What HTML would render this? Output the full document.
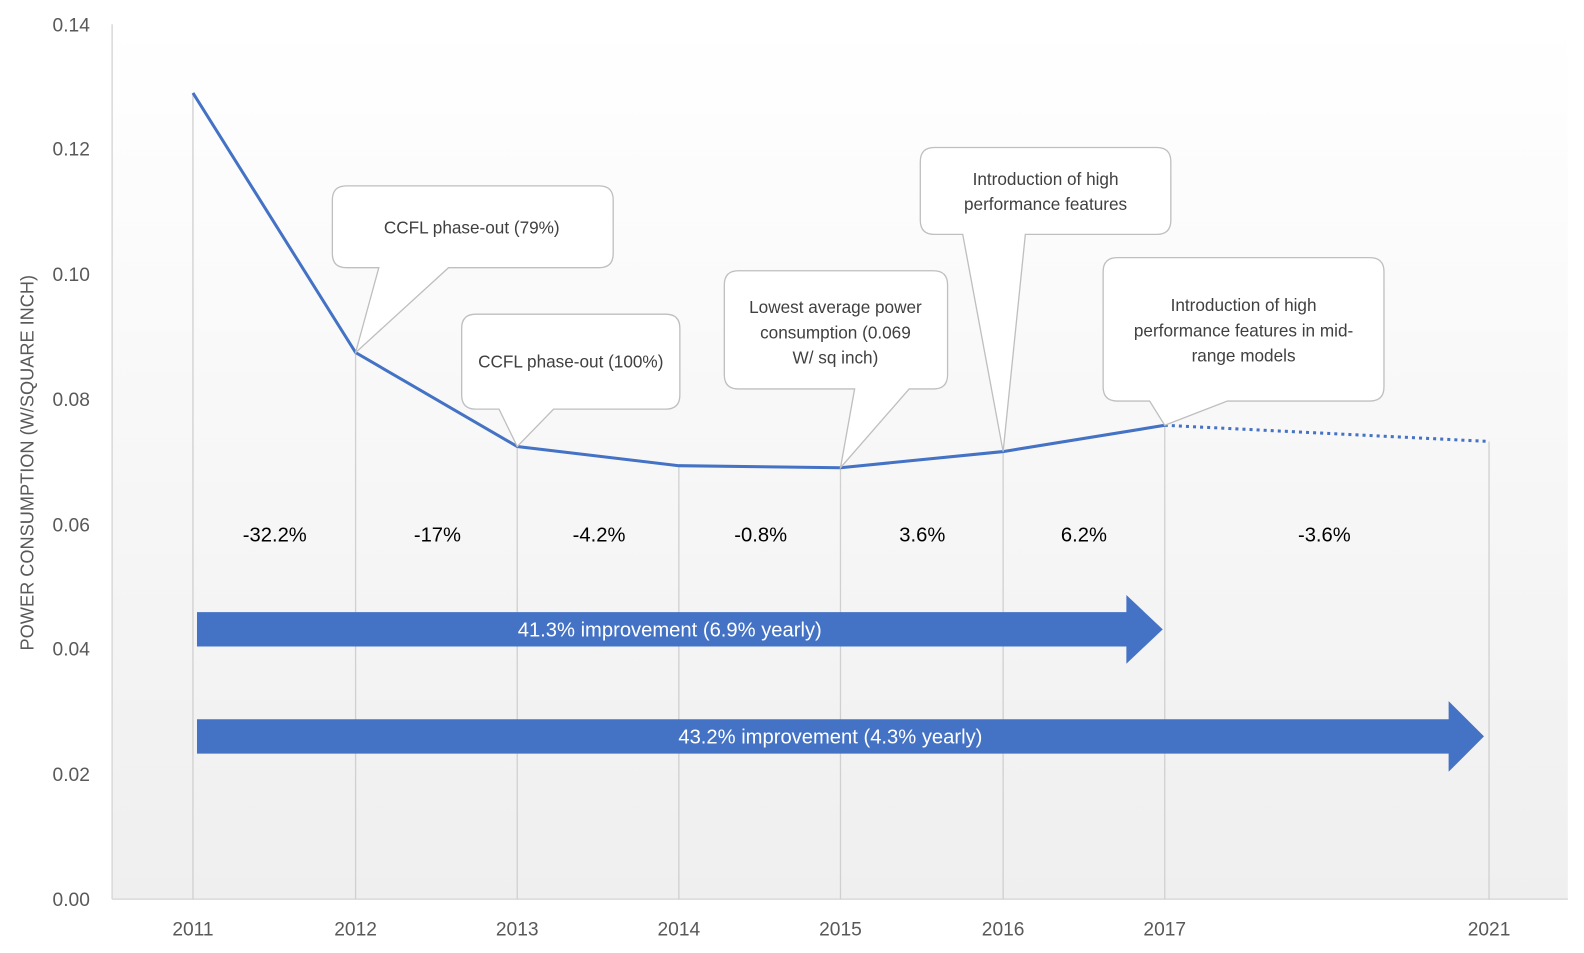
<!DOCTYPE html>
<html><head><meta charset="utf-8"><style>
html,body{margin:0;padding:0;background:#fff}
svg{display:block;font-family:"Liberation Sans",sans-serif}
</style></head><body>
<svg width="1584" height="953" viewBox="0 0 1584 953" xmlns="http://www.w3.org/2000/svg">
<defs>
<linearGradient id="bg" x1="0" y1="0" x2="0" y2="1">
<stop offset="0" stop-color="#ffffff"/><stop offset="1" stop-color="#efefef"/>
</linearGradient>
</defs>
<g transform="scale(1.0102)">
<rect x="111" y="24" width="1441" height="866" fill="url(#bg)"/>
<line x1="111" y1="24" x2="111" y2="890" stroke="#d9d9d9" stroke-width="1.5"/>
<line x1="111" y1="890" x2="1552" y2="890" stroke="#d9d9d9" stroke-width="1.5"/>
<g stroke="#d0d0d0" stroke-width="1.3">
<line x1="191" y1="92" x2="191" y2="890"/>
<line x1="352" y1="349" x2="352" y2="890"/>
<line x1="512" y1="442" x2="512" y2="890"/>
<line x1="672" y1="461" x2="672" y2="890"/>
<line x1="832" y1="463" x2="832" y2="890"/>
<line x1="993" y1="447" x2="993" y2="890"/>
<line x1="1153" y1="421" x2="1153" y2="890"/>
<line x1="1474" y1="437" x2="1474" y2="890"/>
</g>
<g font-size="19" fill="#595959" text-anchor="end">
<text x="89" y="31">0.14</text><text x="89" y="154">0.12</text><text x="89" y="278">0.10</text>
<text x="89" y="402">0.08</text><text x="89" y="526">0.06</text><text x="89" y="649">0.04</text>
<text x="89" y="773">0.02</text><text x="89" y="897">0.00</text>
</g>
<g font-size="19" fill="#595959" text-anchor="middle">
<text x="191" y="926">2011</text><text x="352" y="926">2012</text><text x="512" y="926">2013</text>
<text x="672" y="926">2014</text><text x="832" y="926">2015</text><text x="993" y="926">2016</text>
<text x="1153" y="926">2017</text><text x="1474" y="926">2021</text>
</g>
<text transform="translate(33,458) rotate(-90)" font-size="18" fill="#595959" text-anchor="middle">POWER CONSUMPTION (W/SQUARE INCH)</text>
<polyline points="191,92 352,349 512,442 672,461 832,463 993,447 1153,421" fill="none" stroke="#4472c4" stroke-width="3"/>
<line x1="1153" y1="421" x2="1474" y2="437" stroke="#4472c4" stroke-width="3" stroke-dasharray="3,4"/>
<g fill="#fff" stroke="#bfbfbf" stroke-width="1.3">
<path d="M343,184 H593 Q607,184 607,198 V251 Q607,265 593,265 H444 L352,349 L375,265 H343 Q329,265 329,251 V198 Q329,184 343,184 Z"/>
<path d="M471,311 H659 Q673,311 673,325 V391 Q673,405 659,405 H548 L512,442 L494,405 H471 Q457,405 457,391 V325 Q457,311 471,311 Z"/>
<path d="M731,268 H924 Q938,268 938,282 V371 Q938,385 924,385 H900 L832,463 L846,385 H731 Q717,385 717,371 V282 Q717,268 731,268 Z"/>
<path d="M925,146 H1145 Q1159,146 1159,160 V218 Q1159,232 1145,232 H1015 L993,447 L953,232 H925 Q911,232 911,218 V160 Q911,146 925,146 Z"/>
<path d="M1106,255 H1356 Q1370,255 1370,269 V383 Q1370,397 1356,397 H1215 L1153,421 L1138,397 H1106 Q1092,397 1092,383 V269 Q1092,255 1106,255 Z"/>
</g>
<g font-size="17" fill="#404040" text-anchor="middle">
<text x="467" y="231">CCFL phase-out (79%)</text>
<text x="565" y="364">CCFL phase-out (100%)</text>
<text x="827" y="310">Lowest average power</text><text x="827" y="335">consumption (0.069</text><text x="827" y="360">W/ sq inch)</text>
<text x="1035" y="183">Introduction of high</text><text x="1035" y="208">performance features</text>
<text x="1231" y="308">Introduction of high</text><text x="1231" y="333">performance features in mid-</text><text x="1231" y="358">range models</text>
</g>
<g font-size="20" fill="#000" text-anchor="middle">
<text x="272" y="536">-32.2%</text><text x="433" y="536">-17%</text><text x="593" y="536">-4.2%</text>
<text x="753" y="536">-0.8%</text><text x="913" y="536">3.6%</text><text x="1073" y="536">6.2%</text>
<text x="1311" y="536">-3.6%</text>
</g>
<polygon points="195,606 1115,606 1115,589 1151,623 1115,657 1115,640 195,640" fill="#4472c4"/>
<polygon points="195,712 1434,712 1434,694 1469,729 1434,764 1434,746 195,746" fill="#4472c4"/>
<g font-size="20" fill="#fff" text-anchor="middle">
<text x="663" y="630">41.3% improvement (6.9% yearly)</text>
<text x="822" y="736">43.2% improvement (4.3% yearly)</text>
</g>
</g>
</svg>
</body></html>
